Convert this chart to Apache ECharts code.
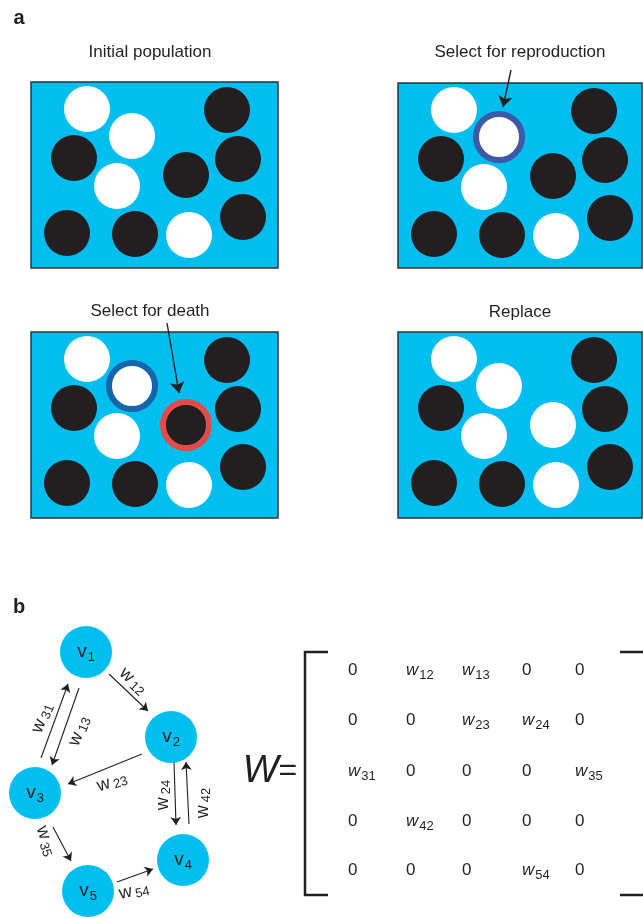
<!DOCTYPE html>
<html>
<head>
<meta charset="utf-8">
<script src="https://cdn.jsdelivr.net/npm/echarts@6/dist/echarts.min.js"></script>
<style>
  html, body { margin: 0; padding: 0; background: #fff; }
  #main { width: 643px; height: 918px; }
</style>
</head>
<body>
<div id="main"></div>
<script>
const INK = '#231f20';
const CYAN = '#00bff0';
const FONT = '"Liberation Sans", Arial, sans-serif';

// ---- part a : four population panels ----
const panelTitles = ['Initial population', 'Select for reproduction', 'Select for death', 'Replace'];
const panelBoxes = [[31, 82, 278, 268], [398, 83, 642, 268], [31, 332, 278, 518], [398, 332, 642, 518]];
const titleAt = [[150, 52], [520, 52], [150, 311], [520, 312]];
// individuals, relative to the panel's top-left corner
const cellOffsets = [[56, 27], [101, 54], [43, 76], [86, 104], [155, 93], [196, 28],
                     [207, 77], [212, 135], [36, 151], [104, 152], [158, 153]];
const startColors = ['w', 'w', 'b', 'w', 'b', 'b', 'b', 'b', 'b', 'b', 'w'];
const replaceColors = ['w', 'w', 'b', 'w', 'w', 'b', 'b', 'b', 'b', 'b', 'w'];
const panelColors = [startColors, startColors, startColors, replaceColors];
// [panel, cell, ring colour]
const rings = [[1, 1, '#3d5aa8'], [2, 1, '#1565ad'], [2, 4, '#e24b4b']];
const pointerFrom = [[511, 70], [167, 323]];
const pointerTo = [[503, 107], [179, 393]];

// ---- part b : graph and weight matrix ----
const nodeNames = ['1', '2', '3', '4', '5'];
const nodeAt = [[86, 652], [171, 737], [35, 793], [183, 860], [88, 891]];
const edgeNames = ['12', '31', '13', '23', '24', '42', '35', '54'];
const edgeFrom = [[109, 674], [41, 758], [79, 688], [142, 754], [174, 762], [189, 824], [53, 827], [117, 882]];
const edgeTo = [[148, 711], [68, 684], [52, 765], [68, 784], [176, 825], [186, 762], [71, 861], [153, 869]];
const edgeLabelAt = [[133, 681], [42, 718], [79, 731], [112, 782], [163, 795], [203, 803], [46, 841], [134, 891]];
const edgeLabelAngle = [-43, 68, 68, 18, 90, 90, -72, 12];
const matrix = [
  ['0', '12', '13', '0', '0'],
  ['0', '0', '23', '24', '0'],
  ['31', '0', '0', '0', '35'],
  ['0', '42', '0', '0', '0'],
  ['0', '0', '0', '54', '0']
];
const matrixCols = [348, 406, 462, 522, 575];
const matrixRows = [670, 720, 771, 821, 870];
const leftBracket = [[328, 652], [305, 652], [305, 895], [328, 895]];
const rightBracket = [[620, 652], [646, 652], [646, 895], [620, 895]];

const rich = {
  w: { fontFamily: FONT, fontStyle: 'italic', fontSize: 17, color: INK },
  g: { fontFamily: FONT, fontSize: 18, color: INK },
  v: { fontFamily: FONT, fontSize: 19, color: INK },
  s: { fontFamily: FONT, fontSize: 13, color: INK, padding: [11, 0, 0, 1] },
  gs: { fontFamily: FONT, fontSize: 13, color: INK, padding: [7, 0, 0, 3] },
  z: { fontFamily: FONT, fontSize: 17, color: INK },
  t: { fontFamily: FONT, fontSize: 17, color: INK },
  ab: { fontFamily: FONT, fontSize: 20, fontWeight: 'bold', color: INK },
  W: { fontFamily: FONT, fontStyle: 'italic', fontSize: 38, color: INK },
  eq: { fontFamily: FONT, fontSize: 32, color: INK }
};

const cells = [];
panelBoxes.forEach((b, p) => {
  cellOffsets.forEach((o, i) => {
    cells.push({ value: [b[0] + o[0], b[1] + o[1]], itemStyle: { color: panelColors[p][i] === 'w' ? '#ffffff' : INK } });
  });
});
const ringData = rings.map(r => ({
  value: [panelBoxes[r[0]][0] + cellOffsets[r[1]][0], panelBoxes[r[0]][1] + cellOffsets[r[1]][1]],
  itemStyle: { borderColor: r[2] }
}));

const texts = [];
panelTitles.forEach((t, i) => texts.push({ value: titleAt[i], label: { formatter: '{t|' + t + '}' } }));
texts.push({ value: [19, 18], label: { formatter: '{ab|a}' } });
texts.push({ value: [19, 607], label: { formatter: '{ab|b}' } });
texts.push({ value: [270, 771], label: { formatter: '{W|W}{eq|=}' } });
edgeNames.forEach((n, i) => texts.push({
  value: edgeLabelAt[i], label: { formatter: '{g|w}{gs|' + n + '}', rotate: edgeLabelAngle[i] }
}));

const matrixData = [];
matrix.forEach((row, r) => row.forEach((m, c) => {
  matrixData.push({
    value: [matrixCols[c], matrixRows[r]],
    label: { formatter: m === '0' ? '{z|0}' : '{w|w}{s|' + m + '}' }
  });
}));

const chart = echarts.init(document.getElementById('main'));
chart.setOption({
  animation: false,
  backgroundColor: '#ffffff',
  grid: { left: 0, right: 0, top: 0, bottom: 0 },
  xAxis: { type: 'value', min: 0, max: 643, show: false },
  yAxis: { type: 'value', min: 0, max: 918, inverse: true, show: false },
  series: [
    {
      type: 'custom',
      name: 'panels',
      silent: true,
      data: panelBoxes,
      renderItem: (params, api) => {
        const a = api.coord([api.value(0), api.value(1)]);
        const b = api.coord([api.value(2), api.value(3)]);
        return {
          type: 'rect',
          shape: { x: a[0], y: a[1], width: b[0] - a[0], height: b[1] - a[1] },
          style: { fill: CYAN, stroke: '#333333', lineWidth: 1.5 }
        };
      }
    },
    {
      type: 'scatter',
      name: 'cells',
      silent: true,
      symbolSize: 46,
      itemStyle: { opacity: 1 },
      data: cells
    },
    {
      type: 'scatter',
      name: 'rings',
      silent: true,
      symbolSize: 46,
      itemStyle: { color: 'rgba(0,0,0,0)', borderWidth: 6, opacity: 1 },
      data: ringData
    },
    {
      type: 'lines',
      name: 'pointers',
      coordinateSystem: 'cartesian2d',
      silent: true,
      symbol: ['none', 'arrow'],
      symbolSize: 11,
      lineStyle: { color: INK, width: 1.4, opacity: 1 },
      data: pointerFrom.map((f, i) => ({ coords: [f, pointerTo[i]] }))
    },
    {
      type: 'scatter',
      name: 'nodes',
      silent: true,
      symbolSize: 52,
      itemStyle: { color: CYAN, opacity: 1 },
      label: { show: true, position: 'inside', rich: rich },
      data: nodeAt.map((p, i) => ({ value: p, label: { formatter: '{v|v}{s|' + nodeNames[i] + '}' } }))
    },
    {
      type: 'lines',
      name: 'edges',
      coordinateSystem: 'cartesian2d',
      silent: true,
      symbol: ['none', 'arrow'],
      symbolSize: 8,
      lineStyle: { color: INK, width: 1.1, opacity: 1 },
      data: edgeFrom.map((f, i) => ({ coords: [f, edgeTo[i]] }))
    },
    {
      type: 'custom',
      name: 'brackets',
      silent: true,
      data: [0, 1],
      renderItem: (params, api) => {
        const pts = (params.dataIndex === 0 ? leftBracket : rightBracket).map(p => api.coord(p));
        return {
          type: 'polyline',
          shape: { points: pts },
          style: { fill: null, stroke: INK, lineWidth: 2.5 }
        };
      }
    },
    {
      type: 'scatter',
      name: 'matrix',
      silent: true,
      symbolSize: 1,
      itemStyle: { color: 'rgba(0,0,0,0)', opacity: 1 },
      label: { show: true, position: 'inside', align: 'left', rich: rich },
      data: matrixData
    },
    {
      type: 'scatter',
      name: 'texts',
      silent: true,
      symbolSize: 1,
      itemStyle: { color: 'rgba(0,0,0,0)', opacity: 1 },
      label: { show: true, position: 'inside', rich: rich },
      data: texts
    }
  ]
});
window.addEventListener('resize', () => chart.resize());
</script>
</body>
</html>
